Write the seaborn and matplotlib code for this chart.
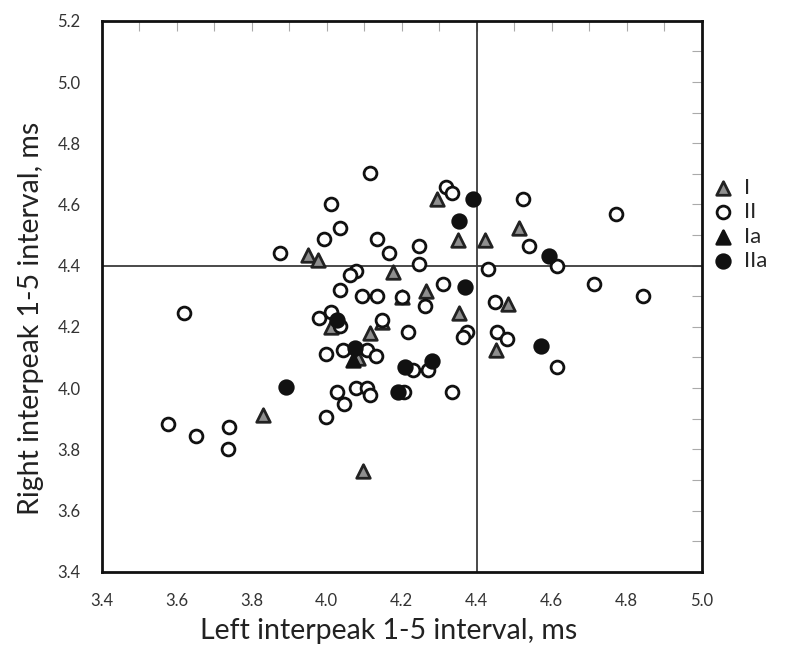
import matplotlib
matplotlib.use("Agg")
import matplotlib.pyplot as plt
import seaborn as sns
import pandas as pd
from matplotlib.ticker import MultipleLocator

# Group I (gray triangles)
i_left = [4.295, 4.351, 4.422, 3.951, 3.976, 4.178, 4.200, 4.264, 4.353, 4.013,
          4.147, 4.115, 4.513, 4.484, 4.451, 4.084, 3.831, 4.098]
i_right = [4.617, 4.484, 4.484, 4.435, 4.418, 4.380, 4.298, 4.318, 4.246, 4.200,
           4.215, 4.181, 4.522, 4.274, 4.124, 4.097, 3.912, 3.730]

# Group II (open circles)
ii_left = [4.116, 4.318, 4.335, 4.013, 4.035, 3.993, 4.133, 4.247, 3.877, 4.166,
           4.247, 4.430, 4.078, 4.062, 4.035, 4.093, 4.133, 4.200, 4.309, 4.262,
           3.979, 4.013, 4.035, 4.147, 4.216, 4.373, 4.364, 4.524, 4.771, 4.540,
           4.613, 4.713, 4.844, 4.449, 4.455, 4.480, 4.613, 4.231, 4.269, 4.206,
           4.333, 3.998, 4.044, 4.107, 4.131, 4.029, 4.046, 4.077, 4.108, 4.115,
           3.998, 3.619, 3.578, 3.651, 3.740, 3.738]
ii_right = [4.704, 4.658, 4.639, 4.601, 4.524, 4.486, 4.486, 4.466, 4.440, 4.440,
            4.407, 4.390, 4.383, 4.369, 4.320, 4.302, 4.302, 4.298, 4.340, 4.269,
            4.230, 4.249, 4.203, 4.222, 4.184, 4.184, 4.168, 4.618, 4.568, 4.466,
            4.400, 4.340, 4.302, 4.282, 4.182, 4.162, 4.068, 4.059, 4.059, 3.986,
            3.986, 4.113, 4.124, 4.124, 4.105, 3.986, 3.947, 4.001, 4.001, 3.977,
            3.904, 4.247, 3.882, 3.844, 3.874, 3.800]

# Group Ia (black triangles)
ia_left = [4.069]
ia_right = [4.092]

# Group IIa (black circles)
iia_left = [4.391, 4.353, 4.370, 4.028, 4.593, 4.572, 4.280, 4.209, 4.075, 3.893, 4.191]
iia_right = [4.618, 4.546, 4.331, 4.224, 4.431, 4.138, 4.088, 4.068, 4.130, 4.004, 3.986]

ticks = [3.4, 3.6, 3.8, 4.0, 4.2, 4.4, 4.6, 4.8, 5.0, 5.2]

sns.set_style("white")
plt.rcParams['font.family'] = ['Lato', 'DejaVu Sans']

fig = plt.figure(figsize=(7.93, 6.53), dpi=100)
ax = fig.add_axes([0.128, 0.1245, 0.757, 0.8435])

ax.axvline(4.4, color="#3a3a3a", lw=1.3, zorder=1)
ax.axhline(4.4, color="#3a3a3a", lw=1.3, zorder=1)

groups = [
    ("I", i_left, i_right, "^", "#8f8f8f", "#222222", 95),
    ("II", ii_left, ii_right, "o", "white", "#111111", 85),
    ("Ia", ia_left, ia_right, "^", "#111111", "#111111", 95),
    ("IIa", iia_left, iia_right, "o", "#111111", "#111111", 95),
]
for name, xs, ys, mk, fc, ec, s in groups:
    df = pd.DataFrame({"left": xs, "right": ys})
    sns.scatterplot(data=df, x="left", y="right", ax=ax, marker=mk, color=fc,
                    edgecolor=ec, linewidth=2.0, s=s, label=name, zorder=3)

ax.set_xlim(3.4, 5.0)
ax.set_ylim(3.4, 5.2)
ax.set_xticks(ticks[:-1])
ax.set_yticks(ticks)
ax.set_xticklabels([f"{t:.1f}" for t in ticks[:-1]])
ax.set_yticklabels([f"{t:.1f}" for t in ticks])
ax.xaxis.set_minor_locator(MultipleLocator(0.1))
ax.yaxis.set_minor_locator(MultipleLocator(0.1))
ax.tick_params(axis="both", which="both", direction="in", length=7, width=0.8,
               color="#aaaaaa", top=True, right=True)
ax.tick_params(axis="both", which="major", labelsize=12, labelcolor="#333333", pad=15)

for sp in ax.spines.values():
    sp.set_visible(True)
    sp.set_color("#111111")
    sp.set_linewidth(2.0)

ax.set_xlabel("Left interpeak 1-5 interval, ms", fontsize=20.5, color="#222222", va="center")
ax.set_ylabel("Right interpeak 1-5 interval, ms", fontsize=20.5, color="#222222", va="center")
ax.xaxis.set_label_coords(0.478, -0.108)
ax.yaxis.set_label_coords(-0.118, 0.46)

leg = ax.legend(loc="upper left", bbox_to_anchor=(1.017, 0.715), frameon=False,
                fontsize=16, handlelength=1.0, handletextpad=0.45, labelspacing=0.2,
                borderaxespad=0.0, borderpad=0.0)

fig.savefig("out.png", dpi=100)
